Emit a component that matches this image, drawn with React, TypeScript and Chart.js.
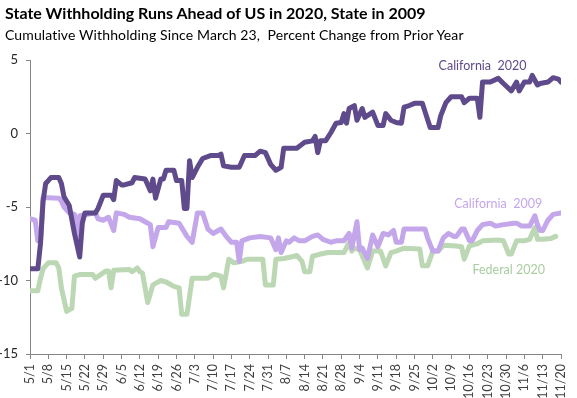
import React, { useEffect, useRef } from "react";
import { Chart, registerables } from "chart.js";
Chart.register(...registerables);

const titleText = "State Withholding Runs Ahead of US in 2020, State in 2009";
const subtitleText = "Cumulative Withholding Since March 23,  Percent Change from Prior Year";

const tickLabels = ["5/1","5/8","5/15","5/22","5/29","6/5","6/12","6/19","6/26","7/3","7/10","7/17","7/24","7/31","8/7","8/14","8/21","8/28","9/4","9/11","9/18","9/25","10/2","10/9","10/16","10/23","10/30","11/6","11/13","11/20"];

// day offsets from 5/1
const ca2020Days = [0,3,4,5,6,7,8,11,12,13,15,17,19,20,21,25,26,28,31,32,33,35,36,39,40,44,46,47,48,50,51,52,55,56,58,59,60,61,62,64,66,69,72,73,74,77,80,82,86,88,90,92,94,96,97,102,105,108,109,110,111,113,115,117,119,120,121,122,124,125,127,128,131,133,135,136,138,140,142,143,145,147,150,151,153,156,157,159,161,165,166,168,171,172,173,176,179,181,184,186,187,189,191,192,194,195,198,200,202,203];
const ca2020Values = [-9.2,-9.2,-7.5,-4.6,-3.4,-3.2,-3.0,-3.0,-3.4,-4.3,-4.9,-6.8,-8.4,-6.1,-5.4,-5.4,-5.1,-4.2,-4.2,-4.5,-3.2,-3.5,-3.5,-3.35,-3.0,-3.1,-3.9,-3.1,-4.4,-3.1,-3.1,-2.5,-2.5,-3.2,-3.2,-5.1,-5.1,-1.85,-3.0,-2.3,-1.7,-1.5,-1.5,-1.4,-2.2,-2.3,-2.3,-1.5,-1.5,-1.2,-1.3,-2.1,-2.5,-2.3,-1.0,-1.0,-0.6,-0.5,-0.2,-1.3,-0.5,-0.5,0.05,0.7,0.75,1.35,0.7,1.7,1.9,0.9,1.7,1.1,1.45,0.55,0.55,1.35,0.9,0.75,0.7,1.8,1.9,2.05,2.05,1.5,0.4,0.4,1.2,2.1,2.5,2.5,2.1,2.4,2.4,1.1,3.5,3.5,3.75,3.4,2.9,3.5,2.9,3.5,3.5,3.95,3.3,3.4,3.5,3.8,3.7,3.5];

const ca2009Days = [0,2,3,4,5,11,12,13,15,17,18,19,25,26,28,30,32,33,36,38,42,44,46,47,49,52,53,57,60,62,64,66,68,70,73,75,77,79,80,81,84,88,92,94,95,96,98,99,101,103,105,108,110,112,115,117,120,122,123,125,126,127,129,131,133,135,137,139,140,142,143,151,152,154,156,158,160,162,163,165,166,168,169,171,173,176,178,181,185,186,188,191,193,194,195,196,198,200,203];
const ca2009Values = [-5.8,-5.9,-7.3,-7.4,-4.35,-4.4,-4.6,-5.0,-5.4,-5.5,-7.3,-5.6,-5.4,-5.8,-5.9,-5.7,-6.6,-5.4,-5.5,-5.7,-5.8,-6.0,-6.2,-7.7,-6.4,-6.4,-6.0,-6.1,-7.0,-7.4,-5.4,-5.4,-6.5,-6.8,-6.5,-7.0,-7.4,-7.4,-8.7,-7.3,-7.1,-7.0,-7.1,-7.9,-7.1,-8.1,-7.3,-7.4,-7.1,-7.3,-7.3,-7.0,-6.9,-7.2,-7.4,-7.3,-7.3,-6.8,-7.8,-6.0,-7.9,-7.8,-8.5,-6.9,-7.7,-6.8,-6.9,-6.6,-7.4,-7.4,-6.5,-6.5,-7.1,-8.0,-8.0,-7.1,-6.8,-7.0,-7.0,-6.5,-6.5,-7.3,-7.3,-6.6,-6.2,-6.1,-6.3,-6.2,-6.1,-6.1,-6.3,-6.3,-5.6,-6.2,-6.6,-6.6,-5.9,-5.5,-5.4];

const fed2020Days = [0,3,4,5,7,10,11,12,14,16,17,19,24,25,27,29,30,31,32,38,39,41,42,43,45,47,48,50,52,55,57,58,60,62,68,70,71,73,74,76,78,81,83,89,90,93,94,97,101,102,104,105,107,108,111,114,120,122,123,124,126,129,131,134,136,138,140,143,149,150,152,154,156,158,163,165,166,168,171,173,179,181,183,184,186,189,191,193,194,196,199,201];
const fed2020Values = [-10.7,-10.7,-9.85,-9.2,-8.8,-8.8,-9.15,-10.5,-12.1,-11.9,-9.7,-9.6,-9.6,-9.85,-9.6,-9.35,-9.35,-10.5,-9.3,-9.25,-9.4,-9.15,-9.4,-9.5,-11.5,-10.3,-10.2,-10.0,-10.1,-10.4,-10.5,-12.3,-12.3,-9.85,-9.85,-9.6,-9.6,-9.7,-10.5,-8.55,-8.8,-8.7,-8.55,-8.55,-10.3,-10.3,-8.55,-8.5,-8.35,-8.3,-8.7,-9.4,-9.4,-8.35,-8.2,-8.1,-8.1,-7.4,-8.0,-7.8,-7.9,-9.15,-8.0,-8.0,-9.0,-8.1,-8.0,-7.8,-7.85,-9.0,-9.0,-8.0,-8.0,-7.6,-7.65,-7.7,-8.55,-7.65,-7.5,-7.3,-7.25,-7.3,-8.2,-8.2,-7.3,-7.3,-7.2,-6.4,-7.2,-7.2,-7.15,-7.0];

const seriesNames = ["California  2020", "California  2009", "Federal 2020"];
const seriesColors = ["#5F4B8B", "#C4A7EA", "#BCD7B3"];
const labelColors = ["#5F4B8B", "#C4A7EA", "#A9CCA0"];
// label anchor in data units (day, value)
const labelDays = [173, 179, 183];
const labelValues = [4.6, -4.8, -9.25];

const toPoints = (days: number[], vals: number[]) => days.map((d, i) => ({ x: d, y: vals[i] }));

const FONT = "Lato, 'Open Sans', sans-serif";

export default function App() {
  const ref = useRef<HTMLCanvasElement>(null);
  useEffect(() => {
    if (!ref.current) return;
    const labelPlugin = {
      id: "seriesLabels",
      afterDatasetsDraw(chart: any) {
        const { ctx, scales } = chart;
        ctx.save();
        ctx.font = `12.5px ${FONT}`;
        ctx.textAlign = "center";
        ctx.textBaseline = "middle";
        seriesNames.forEach((n, i) => {
          ctx.fillStyle = labelColors[i];
          ctx.fillText(n, scales.x.getPixelForValue(labelDays[i]), scales.y.getPixelForValue(labelValues[i]));
        });
        ctx.restore();
      },
    };
    const xLabelPlugin = {
      id: "xLabels",
      afterDraw(chart: any) {
        const { ctx, scales } = chart;
        const sx = scales.x;
        ctx.save();
        ctx.font = `12.5px ${FONT}`;
        ctx.fillStyle = "#404040";
        ctx.textAlign = "right";
        ctx.textBaseline = "middle";
        tickLabels.forEach((t, i) => {
          const px = sx.getPixelForValue(i * 7);
          ctx.save();
          ctx.translate(px, sx.top + 10);
          ctx.rotate(-Math.PI / 2);
          ctx.fillText(t, 0, 0);
          ctx.restore();
        });
        ctx.restore();
      },
    };
    const mk = (i: number, days: number[], vals: number[]) => ({
      label: seriesNames[i],
      data: toPoints(days, vals),
      borderColor: seriesColors[i],
      backgroundColor: seriesColors[i],
      borderWidth: 5,
      pointRadius: 0,
      tension: 0,
      borderJoinStyle: "round" as const,
      borderCapStyle: "round" as const,
      fill: false,
    });
    const chart = new Chart(ref.current, {
      type: "line",
      data: {
        datasets: [
          mk(0, ca2020Days, ca2020Values),
          mk(1, ca2009Days, ca2009Values),
          mk(2, fed2020Days, fed2020Values),
        ],
      },
      options: {
        responsive: false,
        animation: false,
        devicePixelRatio: 1,
        layout: { padding: { top: 60, right: 16, left: 0, bottom: 0 } },
        plugins: { legend: { display: false }, tooltip: { enabled: false }, title: { display: false } },
        scales: {
          x: {
            type: "linear",
            min: 0,
            max: 203,
            afterBuildTicks: (scale: any) => {
              scale.ticks = tickLabels.map((_, i) => ({ value: i * 7 }));
            },
            afterFit: (scale: any) => { scale.height = 44; },
            ticks: { display: false, autoSkip: false },
            grid: { drawOnChartArea: false, drawTicks: true, tickLength: 5, color: "#868686" },
            border: { display: true, color: "#868686", width: 1 },
          },
          y: {
            min: -15,
            max: 5,
            afterBuildTicks: (scale: any) => {
              scale.ticks = [-15, -10, -5, 0, 5].map((v) => ({ value: v }));
            },
            afterFit: (scale: any) => { scale.width = 30; },
            ticks: {
              padding: 8,
              color: "#262626",
              font: { family: FONT, size: 13 },
            },
            grid: { drawOnChartArea: false, drawTicks: true, tickLength: 4, color: "#868686" },
            border: { display: true, color: "#868686", width: 1 },
          },
        },
      },
      plugins: [labelPlugin, xLabelPlugin],
    });
    return () => chart.destroy();
  }, []);

  return (
    <div style={{ position: "absolute", left: 0, top: 0, width: 577, height: 398, background: "#fff", overflow: "hidden" }}>
      <canvas ref={ref} width={577} height={398} style={{ position: "absolute", left: 0, top: 0 }} />
      <div style={{ position: "absolute", left: 5, top: 3, fontFamily: FONT, fontWeight: 700, fontSize: 16, color: "#000", whiteSpace: "pre" }}>{titleText}</div>
      <div style={{ position: "absolute", left: 5, top: 26, fontFamily: FONT, fontSize: 14, letterSpacing: 0.12, color: "#000", whiteSpace: "pre" }}>{subtitleText}</div>
    </div>
  );
}
